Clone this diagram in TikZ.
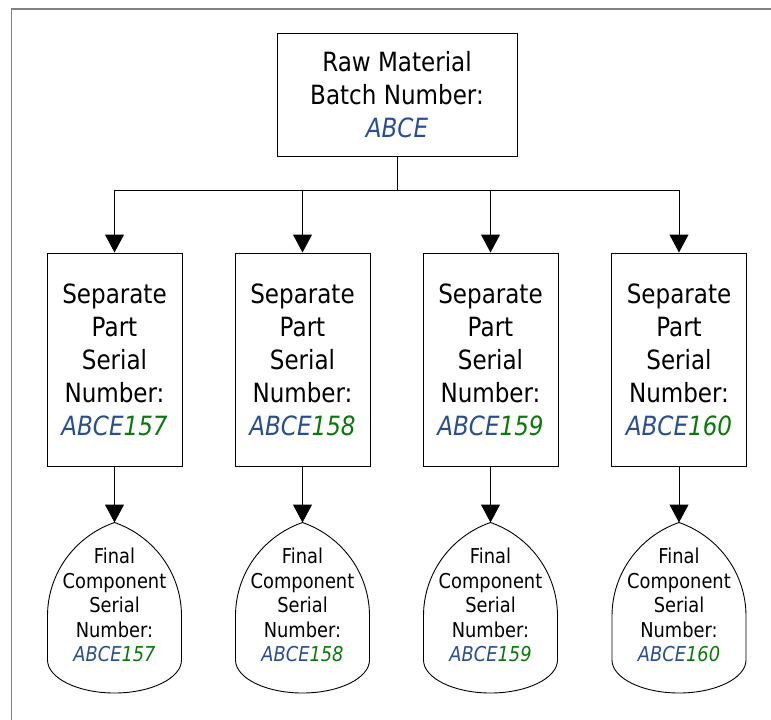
\documentclass[tikz,border=0pt]{standalone}
\usepackage{fontspec}
\setmainfont{DejaVu Sans}[FakeStretch=0.87]
\usetikzlibrary{arrows.meta}
\definecolor{idblue}{RGB}{41,80,140}
\definecolor{idgreen}{RGB}{10,120,10}
\definecolor{framegray}{RGB}{128,128,128}
\newcommand{\batchid}{{\itshape\textcolor{idblue}{ABCE}}}
\newcommand{\serialid}[1]{{\itshape\textcolor{idblue}{ABCE}\textcolor{idgreen}{#1}}}

\begin{document}
\begin{tikzpicture}[x=1pt,y=-1pt,
  big/.style={draw, line width=1pt, align=center, inner sep=0pt,
    font=\fontsize{26.5}{33}\selectfont},
  rawbox/.style={big, minimum width=240pt, minimum height=123pt},
  partbox/.style={big, minimum width=135pt, minimum height=213pt},
  droptext/.style={align=center, inner sep=0pt,
    font=\fontsize{20.5}{24.5}\selectfont},
  dropline/.style={draw, line width=0.9pt},
  link/.style={line width=1pt},
  arrowlink/.style={link, -{Triangle[width=19pt,length=18pt]}},
  framestyle/.style={framegray}]
  \useasboundingbox (0,0) rectangle (771,720);

  % outer frame (left and top edges)
  \draw[framestyle, line width=1.6pt] (11.5,720) -- (11.5,9.5);
  \draw[framestyle, line width=2pt] (10.7,9) -- (771,9);

  % raw material batch
  \node[rawbox] (raw) at (397,94.5) {Raw Material\\Batch Number:\\\batchid};

  % parts and final components (pointed-arch top, rounded bottom)
  \foreach \i/\cx/\n in {1/114.5/157,2/302.5/158,3/490.5/159,4/679/160}{
    \node[partbox] (part\i) at (\cx,359.5)
      {Separate\\Part\\Serial\\Number:\\\serialid{\n}};
    \coordinate (tip\i) at (\cx,522.5);
    \draw[dropline] (tip\i)
      .. controls ({\cx-40},536.5) and ({\cx-67},573.7) .. ({\cx-67},616)
      -- ({\cx-67},660)
      .. controls ({\cx-67},678) and ({\cx-37},693) .. (\cx,693)
      .. controls ({\cx+37},693) and ({\cx+67},678) .. ({\cx+67},660)
      -- ({\cx+67},616)
      .. controls ({\cx+67},573.7) and ({\cx+40},536.5) .. cycle;
    \node[droptext] (final\i) at (\cx,605)
      {Final\\Component\\Serial\\Number:\\\serialid{\n}};
    \draw[arrowlink] (part\i.south) -- (tip\i);
  }

  % distribution bus
  \coordinate (bus) at (397,190);
  \draw[link] (raw.south) -- (bus);
  \draw[link] (part1.north |- bus) -- (part4.north |- bus);
  \foreach \i in {1,2,3,4}{
    \draw[arrowlink] (part\i.north |- bus) -- (part\i.north);
  }
\end{tikzpicture}
\end{document}
